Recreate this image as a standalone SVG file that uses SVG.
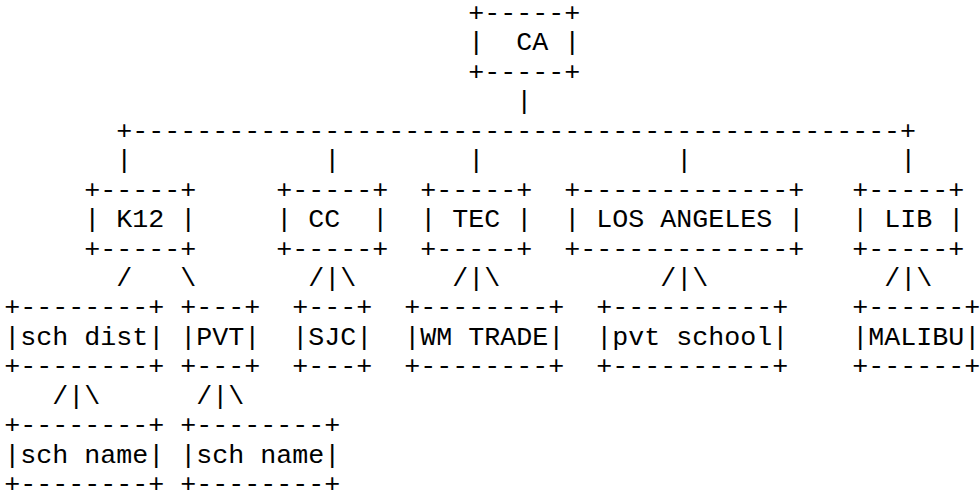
<svg xmlns="http://www.w3.org/2000/svg" width="980" height="490" viewBox="0 0 980 490" xml:space="preserve">
<style>
text { font-family: "Liberation Mono", "Courier New", "DejaVu Sans Mono", monospace; font-size: 26.67px; fill: #000; white-space: pre; }
</style>
<rect x="0" y="0" width="980" height="490" fill="#ffffff"/>
<g id="connectors">
<text x="516.3" y="109.32">|</text>
<text x="116.3" y="138.76">+------------------------------------------------+</text>
<text x="116.3" y="168.2">|</text>
<text x="324.3" y="168.2">|</text>
<text x="468.3" y="168.2">|</text>
<text x="676.3" y="168.2">|</text>
<text x="900.3" y="168.2">|</text>
<text x="116.3" y="285.96">/</text>
<text x="180.3" y="285.96">\</text>
<text x="308.3" y="285.96">/|\</text>
<text x="452.3" y="285.96">/|\</text>
<text x="660.3" y="285.96">/|\</text>
<text x="884.3" y="285.96">/|\</text>
<text x="52.3" y="403.72">/|\</text>
<text x="196.3" y="403.72">/|\</text>
</g>
<g id="node-ca">
<text x="468.3" y="21">+-----+</text>
<text x="468.3" y="50.44">|  CA |</text>
<text x="468.3" y="79.88">+-----+</text>
</g>
<g id="node-k12">
<text x="84.3" y="197.64">+-----+</text>
<text x="84.3" y="227.08">| K12 |</text>
<text x="84.3" y="256.52">+-----+</text>
</g>
<g id="node-cc">
<text x="276.3" y="197.64">+-----+</text>
<text x="276.3" y="227.08">| CC  |</text>
<text x="276.3" y="256.52">+-----+</text>
</g>
<g id="node-tec">
<text x="420.3" y="197.64">+-----+</text>
<text x="420.3" y="227.08">| TEC |</text>
<text x="420.3" y="256.52">+-----+</text>
</g>
<g id="node-los-angeles">
<text x="564.3" y="197.64">+-------------+</text>
<text x="564.3" y="227.08">| LOS ANGELES |</text>
<text x="564.3" y="256.52">+-------------+</text>
</g>
<g id="node-lib">
<text x="852.3" y="197.64">+-----+</text>
<text x="852.3" y="227.08">| LIB |</text>
<text x="852.3" y="256.52">+-----+</text>
</g>
<g id="node-sch-dist">
<text x="4.3" y="315.4">+--------+</text>
<text x="4.3" y="344.84">|sch dist|</text>
<text x="4.3" y="374.28">+--------+</text>
</g>
<g id="node-pvt">
<text x="180.3" y="315.4">+---+</text>
<text x="180.3" y="344.84">|PVT|</text>
<text x="180.3" y="374.28">+---+</text>
</g>
<g id="node-sjc">
<text x="292.3" y="315.4">+---+</text>
<text x="292.3" y="344.84">|SJC|</text>
<text x="292.3" y="374.28">+---+</text>
</g>
<g id="node-wm-trade">
<text x="404.3" y="315.4">+--------+</text>
<text x="404.3" y="344.84">|WM TRADE|</text>
<text x="404.3" y="374.28">+--------+</text>
</g>
<g id="node-pvt-school">
<text x="596.3" y="315.4">+----------+</text>
<text x="596.3" y="344.84">|pvt school|</text>
<text x="596.3" y="374.28">+----------+</text>
</g>
<g id="node-malibu">
<text x="852.3" y="315.4">+------+</text>
<text x="852.3" y="344.84">|MALIBU|</text>
<text x="852.3" y="374.28">+------+</text>
</g>
<g id="node-sch-name-1">
<text x="4.3" y="433.16">+--------+</text>
<text x="4.3" y="462.6">|sch name|</text>
<text x="4.3" y="492.04">+--------+</text>
</g>
<g id="node-sch-name-2">
<text x="180.3" y="433.16">+--------+</text>
<text x="180.3" y="462.6">|sch name|</text>
<text x="180.3" y="492.04">+--------+</text>
</g>
</svg>
